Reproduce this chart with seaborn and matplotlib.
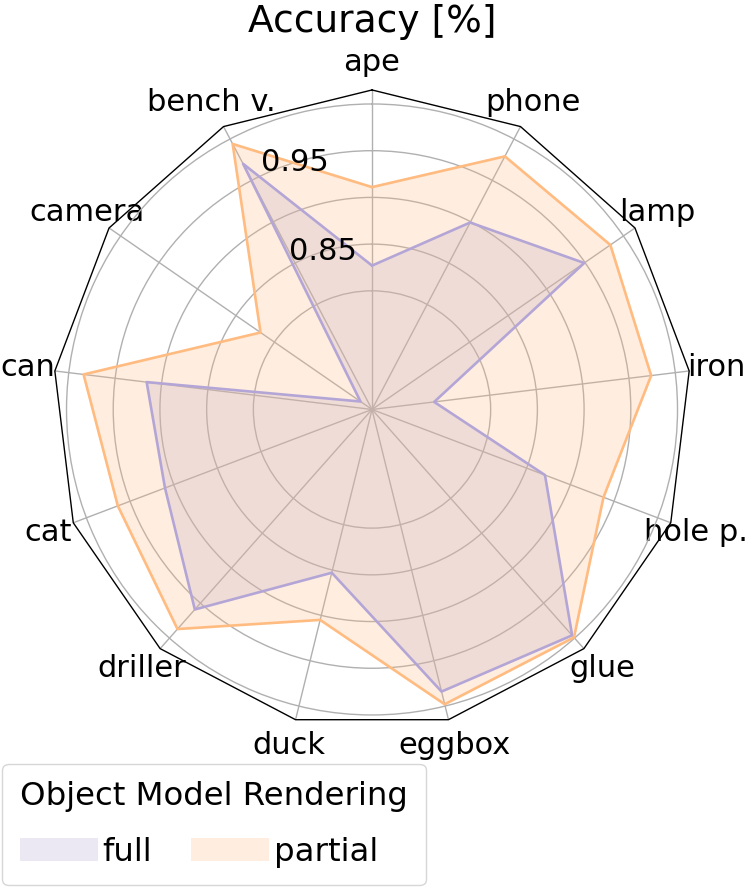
import numpy as np
import matplotlib.pyplot as plt
import seaborn as sns
from matplotlib.patches import Patch

# accuracy per object, clockwise from the top
categories = ["ape", "phone", "lamp", "iron", "hole p.", "glue", "eggbox",
              "duck", "driller", "cat", "can", "camera", "bench v."]
full = [0.827, 0.899, 0.949, 0.740, 0.871, 0.996, 0.984,
        0.853, 0.959, 0.910, 0.916, 0.688, 0.970]
partial = [0.911, 0.979, 0.983, 0.974, 0.938, 0.999, 0.998,
           0.905, 0.987, 0.964, 0.984, 0.818, 0.994]
r_ticks = [0.80, 0.85, 0.90, 0.95, 1.00]
r_tick_labels = ["", "0.85", "", "0.95", ""]
series_names = ["full", "partial"]

sns.set_style("white")
plt.rcParams["font.family"] = ["DejaVu Sans"]
plt.rcParams["text.color"] = "black"
plt.rcParams["xtick.color"] = "black"
plt.rcParams["ytick.color"] = "black"

colors = {"full": "#b3a6d6", "partial": "#ffbb80"}
r_min, r_max = 0.673, 1.015

n = len(categories)
theta = np.linspace(0, 2 * np.pi, n, endpoint=False)
theta_closed = np.append(theta, theta[0])

fig = plt.figure(figsize=(7.48, 8.89), dpi=100)
ax = fig.add_axes([0.0702, 0.18, 0.8543, 0.7188], projection="polar")
ax.set_theta_zero_location("N")
ax.set_theta_direction(-1)
ax.set_ylim(r_min, r_max)

for name, vals in zip(series_names, [full, partial]):
    v = np.append(vals, vals[0])
    ax.fill(theta_closed, v, color=colors[name], alpha=0.25, lw=0)
    sns.lineplot(x=theta_closed, y=v, sort=False, color=colors[name],
                 lw=1.9, ax=ax, estimator=None)

# polygon frame
ax.plot(theta_closed, [r_max] * (n + 1), color="black", lw=1.0, clip_on=False)
ax.spines["polar"].set_visible(False)

ax.set_thetagrids(np.degrees(theta), categories, fontsize=22, color="black")
ax.tick_params(axis="x", pad=9)
ax.set_rgrids(r_ticks, [""] * len(r_ticks))
ax.grid(True, color="#b0b0b0", lw=1.0)
ax.set_xlabel("")
ax.set_ylabel("")

# radial labels, drawn on top of the fills
label_angle = np.radians(-17.4)
for r, lab in zip(r_ticks, r_tick_labels):
    if lab:
        ax.text(label_angle, r, lab, ha="center", va="center", fontsize=22,
                color="black", zorder=10)

fig.text(372 / 748, 1 - 22 / 889, "Accuracy [%]", ha="center", va="center",
         fontsize=27)

handles = [Patch(facecolor=colors[s], alpha=0.25, edgecolor="none")
           for s in series_names]
fig.legend(handles, series_names, title="Object Model Rendering", ncol=2,
           loc="lower left", bbox_to_anchor=(0.003, 0.004), borderaxespad=0,
           fontsize=23.3, title_fontsize=23.3, handlelength=2.4,
           handletextpad=0.15, columnspacing=1.2, borderpad=0.55,
           labelspacing=0.75, alignment="left", edgecolor="#cccccc",
           fancybox=True)

fig.savefig("out.png", dpi=100)
